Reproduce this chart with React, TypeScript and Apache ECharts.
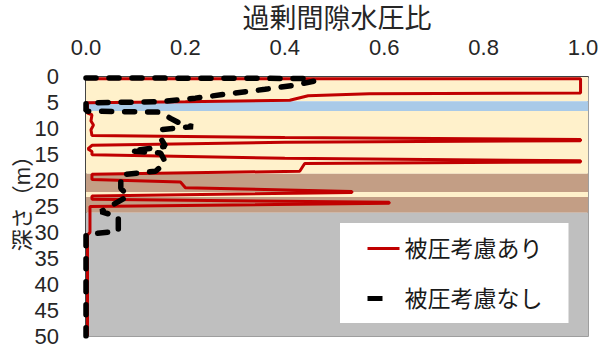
import React, { useEffect, useRef } from "react";
import * as echarts from "echarts";

// Axis ticks
const xTicks = [0, 0.2, 0.4, 0.6, 0.8, 1.0];
const yTicks = [0, 5, 10, 15, 20, 25, 30, 35, 40, 45, 50];

// Soil layer bands (depth m)
const bandStart = [0, 4.7, 6.6, 18.7, 22.2, 23.2, 26.2];
const bandEnd = [4.7, 6.6, 18.7, 22.2, 23.2, 26.2, 50];
const bandColor = ["#FFF1CB", "#A9CAE8", "#FFF1CB", "#C39E85", "#FFF1CB", "#C39E85", "#BFBFBF"];

// 被圧考慮あり
const redX = [0.003, 0.995, 0.995, 0.57, 0.447, 0.41, 0.2, 0.003, 0.003, 0.012, 0.01, 0.015, 0.01, 0.012,
  0.4, 0.995, 0.995, 0.4, 0.012, 0.004, 0.012, 0.012,
  0.4, 0.995, 0.995, 0.44, 0.43, 0.012, 0.012,
  0.19, 0.2, 0.535, 0.535, 0.012, 0.012, 0.61, 0.61, 0.008, 0.008, 0.003, 0.003];
const redDepth = [0.35, 0.35, 3.1, 3.25, 3.63, 4.5, 4.8, 5.0, 7.0, 7.3, 8.5, 9.3, 10.2, 11.3,
  11.7, 12.1, 12.3, 12.6, 13.2, 13.9, 14.4, 15.0,
  15.7, 16.2, 16.4, 16.7, 18.2, 18.8, 19.8,
  20.3, 21.4, 22.1, 22.3, 23.0, 23.6, 24.2, 24.4, 25.0, 30.0, 30.5, 50];

// 被圧考慮なし
const blackX = [0.0, 0.44, 0.46, 0.42, 0.36, 0.3, 0.22, 0.15, 0.0, 0.0, 0.15, 0.17, 0.19, 0.215, 0.15,
  0.15, 0.16, 0.09, 0.15, 0.16, 0.14, 0.07, 0.07, 0.085, 0.03, 0.065, 0.065, 0.0, 0.0];
const blackDepth = [0.2, 0.3, 0.8, 1.6, 2.4, 3.1, 4.1, 4.8, 5.0, 6.6, 6.8, 8.0, 9.0, 9.6, 10.2,
  11.8, 13.4, 14.3, 14.7, 16.5, 18.2, 18.9, 21.5, 23.0, 26.0, 27.0, 29.8, 30.4, 50];

const seriesNames = ["被圧考慮あり", "被圧考慮なし"];
const xTitle = "過剰間隙水圧比";
const yTitle = "深さ（m）";

const FONT = "'Liberation Sans', 'Noto Sans CJK JP', sans-serif";

export default function App() {
  const ref = useRef<HTMLDivElement>(null);
  useEffect(() => {
    if (!ref.current) return;
    const chart = echarts.init(ref.current, null, { renderer: "svg" });
    const redData = redX.map((x, i) => [x, redDepth[i]]);
    const blackData = blackX.map((x, i) => [x, blackDepth[i]]);
    const areas = bandStart.map((s, i) => [
      { yAxis: s, itemStyle: { color: bandColor[i], opacity: 1 } },
      { yAxis: bandEnd[i] },
    ]);
    chart.setOption({
      animation: false,
      textStyle: { fontFamily: FONT },
      grid: {
        left: 86,
        top: 75,
        right: 15,
        bottom: 6,
        show: true,
        borderColor: "#7f7f7f",
        borderWidth: 1.5,
        backgroundColor: "transparent",
      },
      xAxis: {
        type: "value",
        position: "top",
        min: 0,
        max: 1.01,
        interval: 0.2,
        name: xTitle,
        nameLocation: "middle",
        nameGap: 42,
        nameTextStyle: { fontSize: 27, color: "#262626", fontFamily: FONT },
        axisLine: { show: true, lineStyle: { color: "#262626", width: 1.5 } },
        axisTick: { show: false },
        splitLine: { show: false },
        axisLabel: {
          fontSize: 22,
          color: "#262626",
          margin: 18,
          showMaxLabel: false,
          fontFamily: FONT,
          formatter: (v: number) =>
            xTicks.some((t) => Math.abs(t - v) < 1e-6) ? v.toFixed(1) : "",
        },
      },
      yAxis: {
        type: "value",
        inverse: true,
        min: yTicks[0],
        max: yTicks[yTicks.length - 1],
        interval: 5,
        axisLine: { show: true, lineStyle: { color: "#262626", width: 1.5 } },
        axisTick: { show: false },
        splitLine: { show: false },
        axisLabel: { fontSize: 22, color: "#262626", margin: 27, fontFamily: FONT },
      },
      legend: {
        orient: "vertical",
        left: 340,
        top: 223,
        padding: [14, 26, 13, 25],
        backgroundColor: "#ffffff",
        itemWidth: 32,
        itemHeight: 20,
        itemGap: 27,
        itemStyle: { opacity: 0 },
        textStyle: { fontSize: 23, color: "#1a1a1a", fontFamily: FONT },
        data: [
          { name: seriesNames[0], lineStyle: { width: 3, color: "#C00000" } },
          {
            name: seriesNames[1],
            lineStyle: { type: [15, 40], cap: "butt", width: 5, color: "#000000" },
          },
        ],
      },
      graphic: [
        {
          type: "text",
          x: 22,
          y: 198,
          rotation: Math.PI / 2,
          style: {
            text: yTitle,
            fontSize: 22,
            fontFamily: FONT,
            fill: "#262626",
            align: "center",
            verticalAlign: "middle",
          },
        },
      ],
      series: [
        {
          type: "line",
          name: "bands",
          data: [],
          z: 1,
          silent: true,
          markArea: { silent: true, data: areas },
        },
        {
          type: "line",
          name: seriesNames[0],
          data: redData,
          symbol: "none",
          z: 3,
          lineStyle: { color: "#C00000", width: 3 },
          itemStyle: { color: "#C00000" },
        },
        {
          type: "line",
          name: seriesNames[1],
          data: blackData,
          symbol: "none",
          z: 4,
          lineStyle: { color: "#000000", width: 5.5, type: [10, 13], cap: "round" },
          itemStyle: { color: "#000000" },
        },
      ],
    });
    return () => chart.dispose();
  }, []);
  return (
    <div
      ref={ref}
      style={{ position: "absolute", left: 0, top: 0, width: 603, height: 347 }}
    />
  );
}
